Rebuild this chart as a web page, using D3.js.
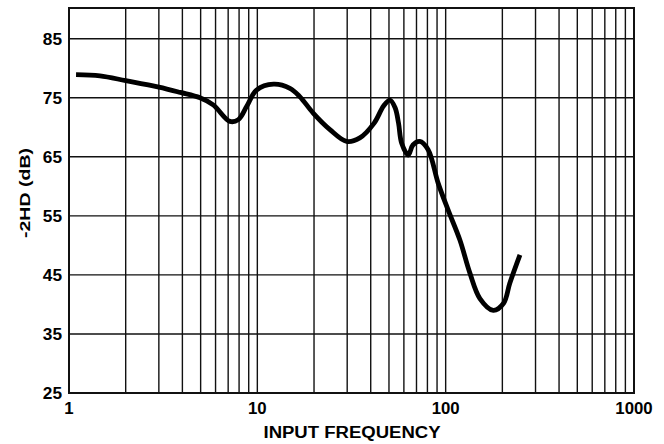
<!DOCTYPE html>
<html>
<head>
<meta charset="utf-8">
<script src="https://cdn.jsdelivr.net/npm/d3@7"></script>
<style>
  body { margin: 0; background: #fff; }
  text { font-family: "Liberation Sans", Arial, sans-serif; font-weight: bold; fill: #000; }
</style>
</head>
<body>
<script>
const width = 664;
const height = 444;
const margin = { l: 69, r: 30, t: 8, b: 51 };

// curve: frequency and -2HD in dB
const freq = [1.09, 1.46, 2, 3, 3.9, 4.96, 5.83, 7.15, 7.93, 8.77, 9.9, 12.2, 14.9, 16.8,
  19.8, 24.3, 29.8, 35, 41.7, 46.8, 50.6, 53.9, 56.2, 58.4, 63.3, 67, 72.8, 80.7, 91.3,
  103, 119, 134.5, 152, 179, 203, 219, 248];
const hd2 = [78.9, 78.7, 77.9, 76.8, 75.9, 75.0, 73.8, 71.0, 71.3, 73.5, 76.3, 77.3, 76.6, 75.2,
  72.4, 69.6, 67.6, 68.2, 70.7, 73.6, 74.6, 73.3, 70.7, 67.3, 65.3, 67.0, 67.6, 66.2, 60.5,
  56.0, 50.9, 45.3, 41.0, 39.0, 40.2, 43.6, 48.4];

const yTicks = [25, 35, 45, 55, 65, 75, 85];
const xTicks = [1, 10, 100, 1000];

const svg = d3.select("body").append("svg")
  .attr("width", width)
  .attr("height", height);

const x = d3.scaleLog().domain([1, 1000]).range([margin.l, width - margin.r]);
const y = d3.scaleLinear().domain([25, 90.2]).range([height - margin.b, margin.t]);

// vertical grid at every 1..9 of each decade
const minor = [];
[1, 10, 100].forEach(d => {
  for (let k = 2; k <= 9; k++) minor.push(d * k);
});
minor.push(10, 100);

svg.append("g")
  .selectAll("line")
  .data(minor)
  .enter()
  .append("line")
  .attr("x1", d => x(d)).attr("x2", d => x(d))
  .attr("y1", y.range()[1]).attr("y2", y.range()[0])
  .style("stroke", "#111")
  .style("stroke-width", 1.4);

svg.append("g")
  .selectAll("line")
  .data(yTicks.slice(1))
  .enter()
  .append("line")
  .attr("x1", x.range()[0]).attr("x2", x.range()[1])
  .attr("y1", d => y(d)).attr("y2", d => y(d))
  .style("stroke", "#111")
  .style("stroke-width", 1.4);

svg.append("rect")
  .attr("x", x.range()[0])
  .attr("y", y.range()[1])
  .attr("width", x.range()[1] - x.range()[0])
  .attr("height", y.range()[0] - y.range()[1])
  .style("fill", "none")
  .style("stroke", "#111")
  .style("stroke-width", 2);

// tick labels (the original font runs a bit wide, hence the x stretch)
svg.append("g")
  .selectAll("text")
  .data(yTicks)
  .enter()
  .append("text")
  .attr("transform", d => `translate(${x.range()[0] - 7},${y(d) + 6}) scale(1.08,1)`)
  .attr("text-anchor", "end")
  .style("font-size", "16px")
  .text(d => d);

svg.append("g")
  .selectAll("text")
  .data(xTicks)
  .enter()
  .append("text")
  .attr("transform", d => `translate(${x(d)},${height - margin.b + 20.5}) scale(1.05,1)`)
  .attr("text-anchor", "middle")
  .style("font-size", "16px")
  .text(d => d);

svg.append("text")
  .attr("x", (x.range()[0] + x.range()[1]) / 2 - 88)
  .attr("y", height - 5.7)
  .attr("textLength", 177)
  .attr("lengthAdjust", "spacingAndGlyphs")
  .style("font-size", "16px")
  .text("INPUT FREQUENCY");

svg.append("text")
  .attr("transform", `translate(30,238) rotate(-90)`)
  .attr("textLength", 90)
  .attr("lengthAdjust", "spacingAndGlyphs")
  .style("font-size", "14px")
  .text("-2HD (dB)");

// the curve
const line = d3.line()
  .x((d, i) => x(freq[i]))
  .y(d => y(d))
  .curve(d3.curveCatmullRom.alpha(0.5));

svg.append("path")
  .attr("d", line(hd2))
  .style("fill", "none")
  .style("stroke", "#000")
  .style("stroke-width", 4.8)
  .style("stroke-linecap", "butt")
  .style("stroke-linejoin", "round");
</script>
</body>
</html>
